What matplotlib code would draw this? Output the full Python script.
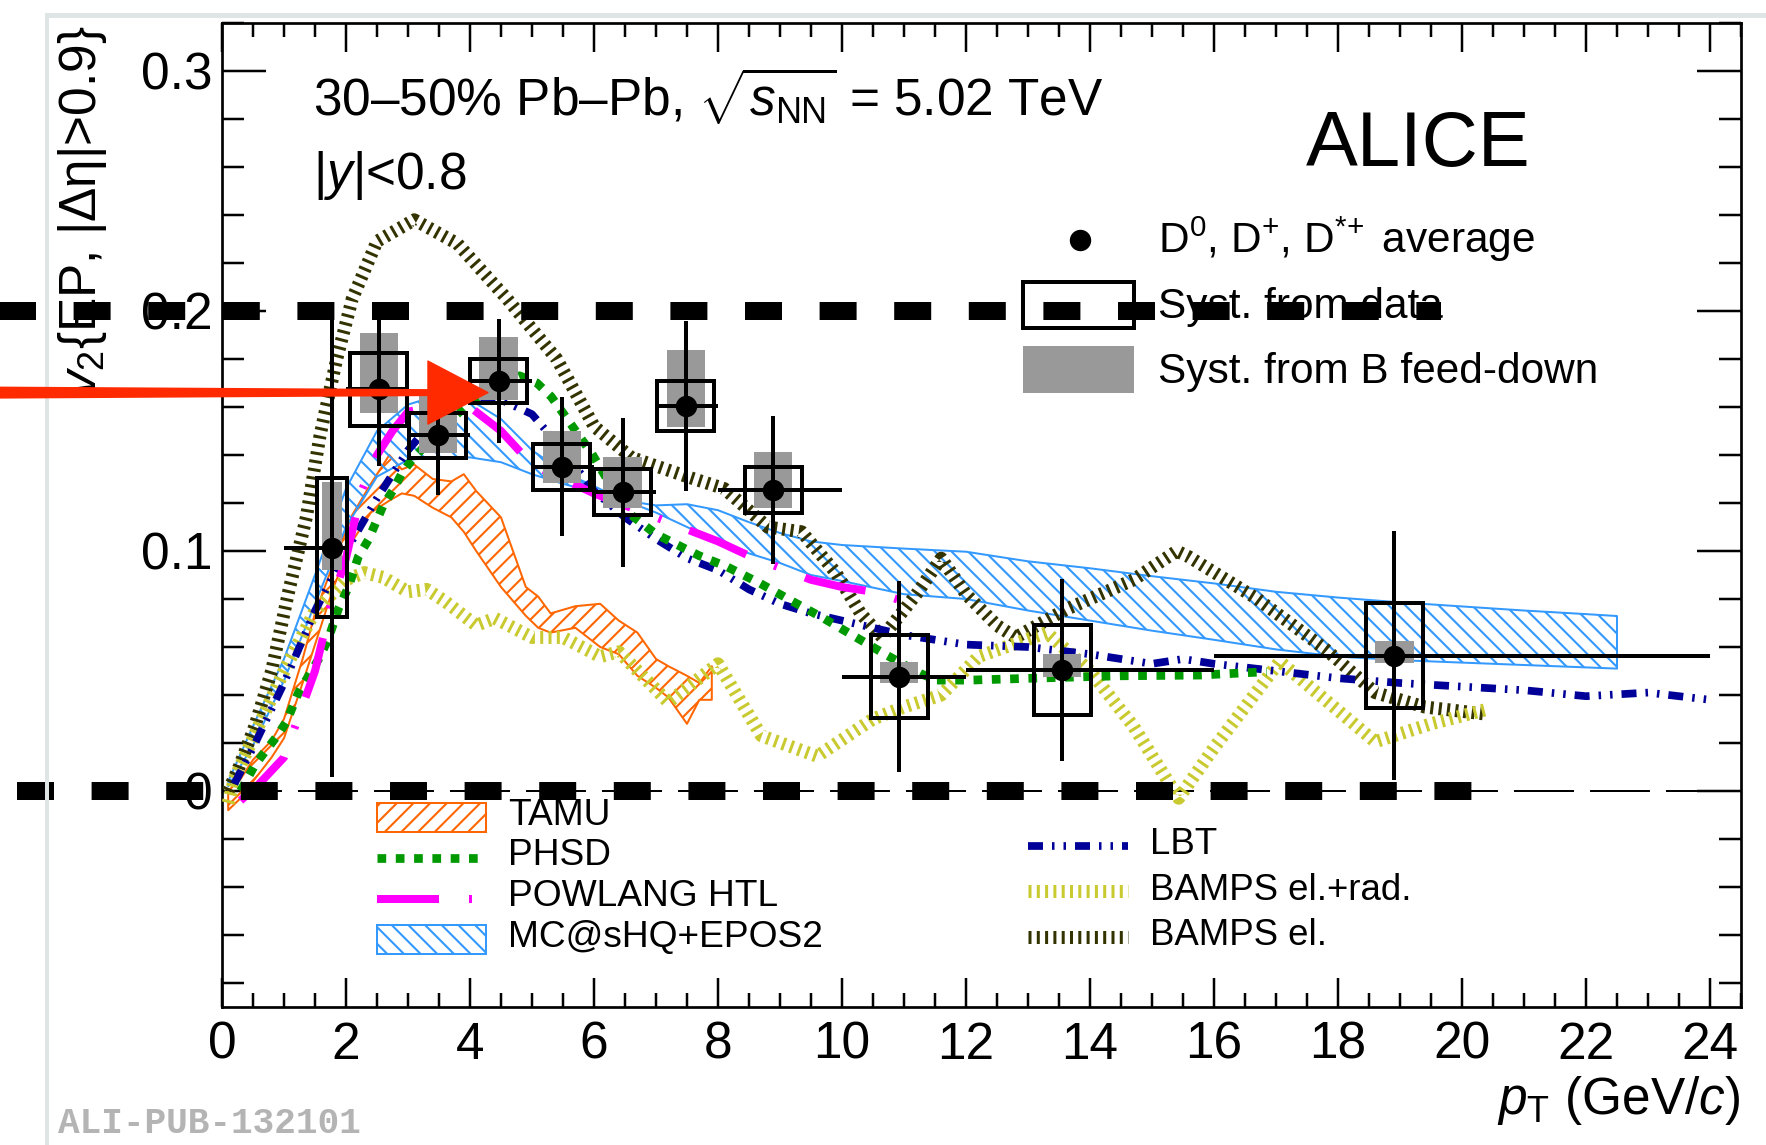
import matplotlib
matplotlib.use("Agg")
import matplotlib.pyplot as plt
import matplotlib.transforms as mtransforms
from matplotlib.lines import Line2D
from matplotlib.patches import Rectangle, Polygon
from matplotlib.ticker import MultipleLocator, FuncFormatter
import numpy as np

# ---------------- D-meson average v2 (30-50% Pb-Pb, 5.02 TeV) ----------------
pt = [1.78, 2.53, 3.48, 4.46, 5.48, 6.46, 7.48, 8.89, 10.92, 13.55, 18.91]
pt_lo = [1, 2, 3, 4, 5, 6, 7, 8, 10, 12, 16]
pt_hi = [2, 3, 4, 5, 6, 7, 8, 10, 12, 16, 24]
v2 = [0.1014, 0.1674, 0.1482, 0.1708, 0.1351, 0.1245, 0.1604, 0.1254, 0.0476, 0.0504, 0.0564]
v2_stat = [0.0956, 0.0320, 0.0250, 0.0260, 0.0290, 0.0310, 0.0355, 0.0310, 0.0397, 0.0380, 0.0520]
v2_syst_data = [0.0289, 0.0152, 0.0095, 0.0093, 0.0096, 0.0095, 0.0104, 0.0095, 0.0172, 0.0186, 0.0218]
v2_syst_fd_lo = [0.0094, 0.0097, 0.0075, 0.0079, 0.0069, 0.0064, 0.0086, 0.0073, 0.0024, 0.0027, 0.0029]
v2_syst_fd_hi = [0.0275, 0.0234, 0.0190, 0.0182, 0.0149, 0.0145, 0.0234, 0.0157, 0.0063, 0.0065, 0.0063]

# ---------------- model calculations ----------------
tamu_pt = [0.1, 0.3, 0.5, 0.8, 1.0, 1.3, 1.5, 1.8, 2.1, 2.4, 2.7, 2.9, 3.1, 3.4, 3.7, 3.9,
           4.1, 4.5, 4.9, 5.1, 5.3, 5.7, 6.1, 6.4, 6.7, 7.0, 7.2, 7.5, 7.7, 7.9]
tamu_hi = [0.000, 0.005, 0.013, 0.021, 0.030, 0.055, 0.074, 0.095, 0.115, 0.128, 0.140, 0.134,
           0.136, 0.130, 0.129, 0.132, 0.125, 0.114, 0.085, 0.081, 0.074, 0.077, 0.078, 0.071,
           0.066, 0.055, 0.052, 0.048, 0.045, 0.052]
tamu_lo = [-0.008, -0.003, 0.004, 0.014, 0.022, 0.045, 0.061, 0.085, 0.104, 0.116, 0.121, 0.124,
           0.123, 0.118, 0.114, 0.108, 0.100, 0.085, 0.073, 0.068, 0.066, 0.068, 0.060, 0.057,
           0.048, 0.043, 0.039, 0.028, 0.038, 0.038]

mcshq_pt = [0.1, 0.5, 1.0, 1.5, 2.0, 2.5, 3.0, 3.5, 4.0, 4.5, 5.0, 5.5, 6.0, 6.5, 7.0, 7.5,
            8.0, 8.5, 9.0, 9.5, 10.0, 11.0, 12.0, 13.0, 14.0, 15.0, 16.0, 17.0, 18.0, 19.0,
            20.0, 21.0, 22.0, 22.5]
mcshq_hi = [0.004, 0.027, 0.055, 0.090, 0.126, 0.150, 0.161, 0.165, 0.163, 0.155, 0.142, 0.133,
            0.127, 0.121, 0.119, 0.1195, 0.117, 0.112, 0.1075, 0.104, 0.1025, 0.101, 0.0997,
            0.0957, 0.0928, 0.0895, 0.0865, 0.0830, 0.0806, 0.0786, 0.0769, 0.0752, 0.0737, 0.0729]
mcshq_lo = [0.002, 0.019, 0.046, 0.078, 0.110, 0.131, 0.138, 0.139, 0.139, 0.137, 0.132, 0.128,
            0.1245, 0.121, 0.116, 0.110, 0.104, 0.099, 0.095, 0.090, 0.0875, 0.082, 0.080,
            0.0752, 0.071, 0.0668, 0.063, 0.059, 0.056, 0.0545, 0.0535, 0.0525, 0.0515, 0.051]

phsd_pt = [0.3, 0.53, 0.69, 0.88, 1.04, 1.23, 1.55, 1.71, 1.88, 2.04, 2.2, 2.36, 2.6, 2.76, 2.9,
           3.06, 3.5, 4.0, 4.5, 4.8, 5.08, 5.31, 5.58, 5.77, 5.96, 6.3, 6.6, 7.0, 7.7, 8.14,
           8.68, 9.16, 9.7, 10.21, 10.72, 11.26, 11.52, 12.06, 13.08, 14.5, 15.77, 16.85]
phsd_v2 = [0.000, 0.0108, 0.0163, 0.0226, 0.0289, 0.0408, 0.0546, 0.063, 0.0761, 0.085, 0.0977,
           0.1046, 0.119, 0.1254, 0.1323, 0.1379, 0.150, 0.162, 0.170, 0.173, 0.170, 0.1643,
           0.1546, 0.1476, 0.1408, 0.126, 0.115, 0.107, 0.098, 0.0935, 0.0865, 0.0796, 0.072,
           0.0643, 0.0566, 0.049, 0.0462, 0.0462, 0.047, 0.048, 0.0483, 0.0497]

powlang_pt = [0.3, 0.6, 1.0, 1.5, 1.75, 2.0, 2.25, 2.5, 2.75, 3.0, 3.5, 4.0, 4.5, 5.0, 5.5, 6.0,
              6.5, 7.0, 7.5, 8.0, 8.5, 9.0, 9.5, 10.0, 10.5, 11.0]
powlang_v2 = [-0.004, 0.003, 0.014, 0.050, 0.077, 0.097, 0.125, 0.140, 0.150, 0.158, 0.161, 0.160,
              0.150, 0.136, 0.130, 0.124, 0.119, 0.114, 0.109, 0.104, 0.098, 0.093, 0.088, 0.085,
              0.083, 0.079]

lbt_pt = [0.2, 0.5, 1.0, 1.5, 2.0, 2.5, 3.0, 3.5, 4.0, 4.5, 5.0, 5.5, 6.0, 6.5, 7.0, 7.5, 8.0,
          8.5, 9.0, 9.5, 10.0, 11.0, 12.0, 13.0, 14.0, 15.0, 15.5, 16.0, 17.0, 18.0, 19.0, 20.0,
          21.0, 22.0, 23.0, 24.0]
lbt_v2 = [0.003, 0.018, 0.045, 0.075, 0.100, 0.122, 0.142, 0.157, 0.164, 0.163, 0.157, 0.142,
          0.125, 0.114, 0.105, 0.097, 0.092, 0.084, 0.078, 0.074, 0.071, 0.065, 0.061, 0.060,
          0.057, 0.053, 0.055, 0.053, 0.050, 0.047, 0.045, 0.0435, 0.042, 0.0395, 0.041, 0.038]

bamps_rad_pt = [0.1, 0.2, 0.5, 1.0, 1.5, 2.0, 2.3, 2.6, 3.0, 3.3, 3.6, 4.1, 4.4, 5.0, 5.5, 6.1,
                6.4, 7.2, 7.6, 8.0, 8.7, 9.6, 10.5, 11.0, 11.6, 12.2, 13.3, 14.0, 14.7, 15.43,
                16.0, 16.5, 17.06, 18.6, 19.5, 20.4]
bamps_rad_v2 = [-0.005, 0.005, 0.022, 0.050, 0.075, 0.088, 0.091, 0.089, 0.083, 0.084, 0.079,
                0.069, 0.072, 0.064, 0.064, 0.056, 0.058, 0.037, 0.045, 0.053, 0.023, 0.0145,
                0.030, 0.035, 0.040, 0.056, 0.066, 0.050, 0.027, -0.003, 0.018, 0.035, 0.054,
                0.0205, 0.028, 0.034]

bamps_el_pt = [0.1, 0.26, 0.53, 0.8, 1.07, 1.36, 1.58, 1.85, 2.1, 2.5, 3.1, 3.8, 4.6, 5.4, 6.0,
               6.6, 7.5, 8.1, 8.8, 9.35, 9.9, 10.3, 10.65, 11.2, 11.6, 12.0, 12.5, 12.8, 13.6,
               14.7, 15.4, 15.6, 16.7, 17.8, 18.6, 19.4, 20.4]
bamps_el_v2 = [0.000, 0.009, 0.027, 0.050, 0.0825, 0.114, 0.148, 0.180, 0.205, 0.229, 0.238,
               0.228, 0.205, 0.180, 0.152, 0.139, 0.131, 0.126, 0.110, 0.108, 0.091, 0.074,
               0.064, 0.082, 0.097, 0.082, 0.069, 0.064, 0.0755, 0.088, 0.100, 0.0975, 0.080,
               0.059, 0.041, 0.035, 0.032]

# ---------------- look ----------------
W, H, DPI = 1766, 1145, 100
PT = 72.0 / DPI          # points per pixel

plt.rcParams["font.family"] = ["Liberation Sans", "DejaVu Sans"]
plt.rcParams["mathtext.fontset"] = "custom"
plt.rcParams["mathtext.rm"] = "Liberation Sans"
plt.rcParams["mathtext.it"] = "Liberation Sans:italic"
plt.rcParams["mathtext.bf"] = "Liberation Sans:bold"
plt.rcParams["lines.scale_dashes"] = False
plt.rcParams["hatch.linewidth"] = 1.5

C_TAMU = "#ff6600"
C_PHSD = "#009900"
C_POWLANG = "#ff00ff"
C_MCSHQ = "#3399ff"
C_LBT = "#000099"
C_BRAD = "#c9c930"
C_BEL = "#333300"
C_FD = "#999999"
C_ARROW = "#ff2a00"

ST = {
    "phsd": dict(color=C_PHSD, lw=8.7 * PT, ls=(0, (8.7 * PT, 9.6 * PT))),
    "powlang": dict(color=C_POWLANG, lw=8 * PT, ls=(0, (62 * PT, 30 * PT, 3 * PT, 30 * PT))),
    "lbt": dict(color=C_LBT, lw=7.7 * PT, ls=(0, (15 * PT, 9 * PT, 2.5 * PT, 9 * PT, 2.5 * PT, 9 * PT))),
    "brad": dict(color=C_BRAD, lw=13 * PT, ls=(0, (3.0 * PT, 5.3 * PT))),
    "bel": dict(color=C_BEL, lw=13 * PT, ls=(0, (3.0 * PT, 5.3 * PT))),
}


def fxy(x, y):
    """pixel position (from top-left) -> figure fraction"""
    return x / W, 1.0 - y / H


def frect(x0, y0, x1, y1, **kw):
    return Rectangle((x0 / W, 1.0 - y1 / H), (x1 - x0) / W, (y1 - y0) / H,
                     transform=fig.transFigure, **kw)


fig = plt.figure(figsize=(W / DPI, H / DPI), dpi=DPI)
fig.patch.set_facecolor("white")

# page frame
fig.add_artist(Line2D([47 / W, 47 / W], [0, 1 - 15 / H], transform=fig.transFigure,
                      color="#dfe4e4", lw=4 * PT))
fig.add_artist(Line2D([47 / W, 1], [1 - 15 / H, 1 - 15 / H], transform=fig.transFigure,
                      color="#dfe4e4", lw=5 * PT))

ax_l, ax_r, ax_t, ax_b = 222, 1741, 23, 1007
ax = fig.add_axes([ax_l / W, 1 - ax_b / H, (ax_r - ax_l) / W, (ax_b - ax_t) / H])
ax.set_xlim(0, 24.5)
ax.set_ylim(-0.09, 0.32)
ax.set_facecolor("none")

for s in ax.spines.values():
    s.set_linewidth(2.7 * PT)
ax.xaxis.set_major_locator(MultipleLocator(2))
ax.xaxis.set_minor_locator(MultipleLocator(0.5))
ax.yaxis.set_major_locator(MultipleLocator(0.1))
ax.yaxis.set_minor_locator(MultipleLocator(0.02))
ax.xaxis.set_major_formatter(FuncFormatter(lambda v, p: "%d" % round(v)))
ax.yaxis.set_major_formatter(FuncFormatter(lambda v, p: "0" if abs(v) < 1e-9 else "%.1f" % v))
ax.tick_params(which="both", direction="in", top=True, right=True, width=2.5 * PT,
               labelsize=37)
ax.tick_params(axis="x", which="major", length=29 * PT, pad=10)
ax.tick_params(axis="x", which="minor", length=14 * PT)
ax.tick_params(axis="y", which="major", length=44 * PT, pad=7)
ax.tick_params(axis="y", which="minor", length=22 * PT)

# zero reference
ax.axhline(0, color="black", lw=2 * PT, ls=(0, (60 * PT, 16 * PT)), zorder=1)

# ---- model bands ----
ax.fill_between(tamu_pt, tamu_lo, tamu_hi, facecolor="none", edgecolor=C_TAMU,
                hatch="//", lw=2 * PT, zorder=2)
ax.fill_between(mcshq_pt, mcshq_lo, mcshq_hi, facecolor="none", edgecolor=C_MCSHQ,
                hatch="\\\\", lw=2 * PT, zorder=2)

# ---- model curves ----
for xs, ys, key in [(bamps_el_pt, bamps_el_v2, "bel"), (bamps_rad_pt, bamps_rad_v2, "brad"),
                    (lbt_pt, lbt_v2, "lbt"), (phsd_pt, phsd_v2, "phsd"),
                    (powlang_pt, powlang_v2, "powlang")]:
    st = ST[key]
    ax.plot(xs, ys, color=st["color"], lw=st["lw"], ls=st["ls"], dash_capstyle="butt",
            zorder=3)

# ---- data ----
for i in range(len(pt)):
    half = min(0.46, pt_hi[i] - pt[i] + 0.02)
    ghalf = half * 0.67
    ax.add_patch(Rectangle((pt[i] - ghalf, v2[i] - v2_syst_fd_lo[i]), 2 * ghalf,
                           v2_syst_fd_lo[i] + v2_syst_fd_hi[i], facecolor=C_FD,
                           edgecolor="none", zorder=5))
    ax.add_patch(Rectangle((pt[i] - half, v2[i] - v2_syst_data[i]), 2 * half,
                           2 * v2_syst_data[i], facecolor="none", edgecolor="black",
                           lw=4 * PT, zorder=6))
xerr = [np.array(pt) - np.array(pt_lo), np.array(pt_hi) - np.array(pt)]
ax.errorbar(pt, v2, yerr=v2_stat, xerr=xerr, fmt="none", ecolor="black",
            elinewidth=4 * PT, capsize=0, zorder=7)
ax.plot(pt, v2, "o", color="black", ms=20 * PT, zorder=8)

# ---------------- texts ----------------
fig.text(*fxy(313, 117), "30\u201350% Pb\u2013Pb, $\\sqrt{s_{\\rm NN}}$ = 5.02 TeV",
         fontsize=37, va="baseline", ha="left")
fig.text(*fxy(313, 189), "|$y$|<0.8", fontsize=37, va="baseline", ha="left")
fig.text(*fxy(1306, 166), "ALICE", fontsize=56, va="baseline", ha="left")
fig.text(*fxy(1740, 1114), "$p_{\\rm T}$ (GeV/$c$)", fontsize=37, va="baseline", ha="right")
fig.text(*fxy(83, 25), "$v_{2}${EP, |\u0394\u03b7|>0.9}", fontsize=37, rotation=90,
         ha="center", va="top")
fig.text(*fxy(58, 1133), "ALI-PUB-132101", fontsize=26, family="Liberation Mono",
         weight="bold", color="#b4b4b4", va="baseline", ha="left")

# ---------------- legends ----------------
fig.add_artist(Line2D([1079.5 / W], [1 - 240 / H], transform=fig.transFigure, marker="o",
                      color="black", ms=20 * PT, ls="none"))
fig.text(*fxy(1158, 253), "D$^{0}$, D$^{+}$, D$^{*\\!+}$ average", fontsize=30.5,
         va="baseline")
fig.add_artist(frect(1023, 282, 1134, 328, facecolor="none", edgecolor="black", lw=4 * PT))
fig.text(*fxy(1158, 318), "Syst. from data", fontsize=30.5, va="baseline")
fig.add_artist(frect(1023, 346, 1134, 393, facecolor=C_FD, edgecolor="none"))
fig.text(*fxy(1158, 383), "Syst. from B feed-down", fontsize=30.5, va="baseline")

# bottom-left block
fig.add_artist(frect(377, 803, 486, 832, facecolor="none", edgecolor=C_TAMU, hatch="//",
                     lw=2 * PT))
fig.text(*fxy(508, 825), "TAMU", fontsize=26.7, va="baseline")
st = ST["phsd"]
fig.add_artist(Line2D([377 / W, 478 / W], [1 - 858 / H] * 2, transform=fig.transFigure,
                      color=st["color"], lw=st["lw"], ls=st["ls"], dash_capstyle="butt"))
fig.text(*fxy(508, 865), "PHSD", fontsize=26.7, va="baseline")
st = ST["powlang"]
fig.add_artist(Line2D([377 / W, 472 / W], [1 - 899 / H] * 2, transform=fig.transFigure,
                      color=st["color"], lw=st["lw"], ls=st["ls"], dash_capstyle="butt"))
fig.text(*fxy(508, 906.5), "POWLANG HTL", fontsize=26.7, va="baseline")
fig.add_artist(frect(377, 925, 486, 954, facecolor="none", edgecolor=C_MCSHQ, hatch="\\\\",
                     lw=2 * PT))
fig.text(*fxy(508, 946.5), "MC@sHQ+EPOS2", fontsize=26.7, va="baseline")

# bottom-right block
for yk, yt, key, lab in [(845.5, 854, "lbt", "LBT"), (890.5, 900, "brad", "BAMPS el.+rad."),
                         (936.5, 945, "bel", "BAMPS el.")]:
    st = ST[key]
    fig.add_artist(Line2D([1028 / W, 1128 / W], [1 - yk / H] * 2, transform=fig.transFigure,
                          color=st["color"], lw=st["lw"], ls=st["ls"], dash_capstyle="butt"))
    fig.text(*fxy(1150, yt), lab, fontsize=26.4, va="baseline")

# ---------------- overlay marks: reference levels and pointer ----------------
fig_x_data_y = mtransforms.blended_transform_factory(fig.transFigure, ax.transData)
for level, x0, x1 in [(0.2, -10.6, 1441), (0.0, 17.2, 1472.3)]:
    ax.add_line(Line2D([x0 / W, x1 / W], [level, level], transform=fig_x_data_y,
                       color="black", lw=18 * PT, ls=(0, (37 * PT, 37.6 * PT)),
                       dash_capstyle="butt", clip_on=False, zorder=20))

ARROW_TIP = (4.29, 0.166)
tx, ty = ax.transData.transform(ARROW_TIP)
head_len, head_half = 60.0, 31.5
shaft = np.array([[0, ty + 6], [tx - head_len + 2, ty + 3.5],
                  [tx - head_len + 2, ty - 3.5], [0, ty - 6]])
fig.add_artist(Polygon(shaft / [W, H], closed=True, transform=fig.transFigure,
                       facecolor=C_ARROW, edgecolor="none", zorder=19))
head = np.array([[tx, ty], [tx - head_len, ty + head_half], [tx - head_len, ty - head_half]])
fig.add_artist(Polygon(head / [W, H], closed=True, transform=fig.transFigure,
                       facecolor=C_ARROW, edgecolor=C_ARROW, lw=1, joinstyle="round",
                       zorder=21))

fig.savefig("out.png", dpi=DPI)
